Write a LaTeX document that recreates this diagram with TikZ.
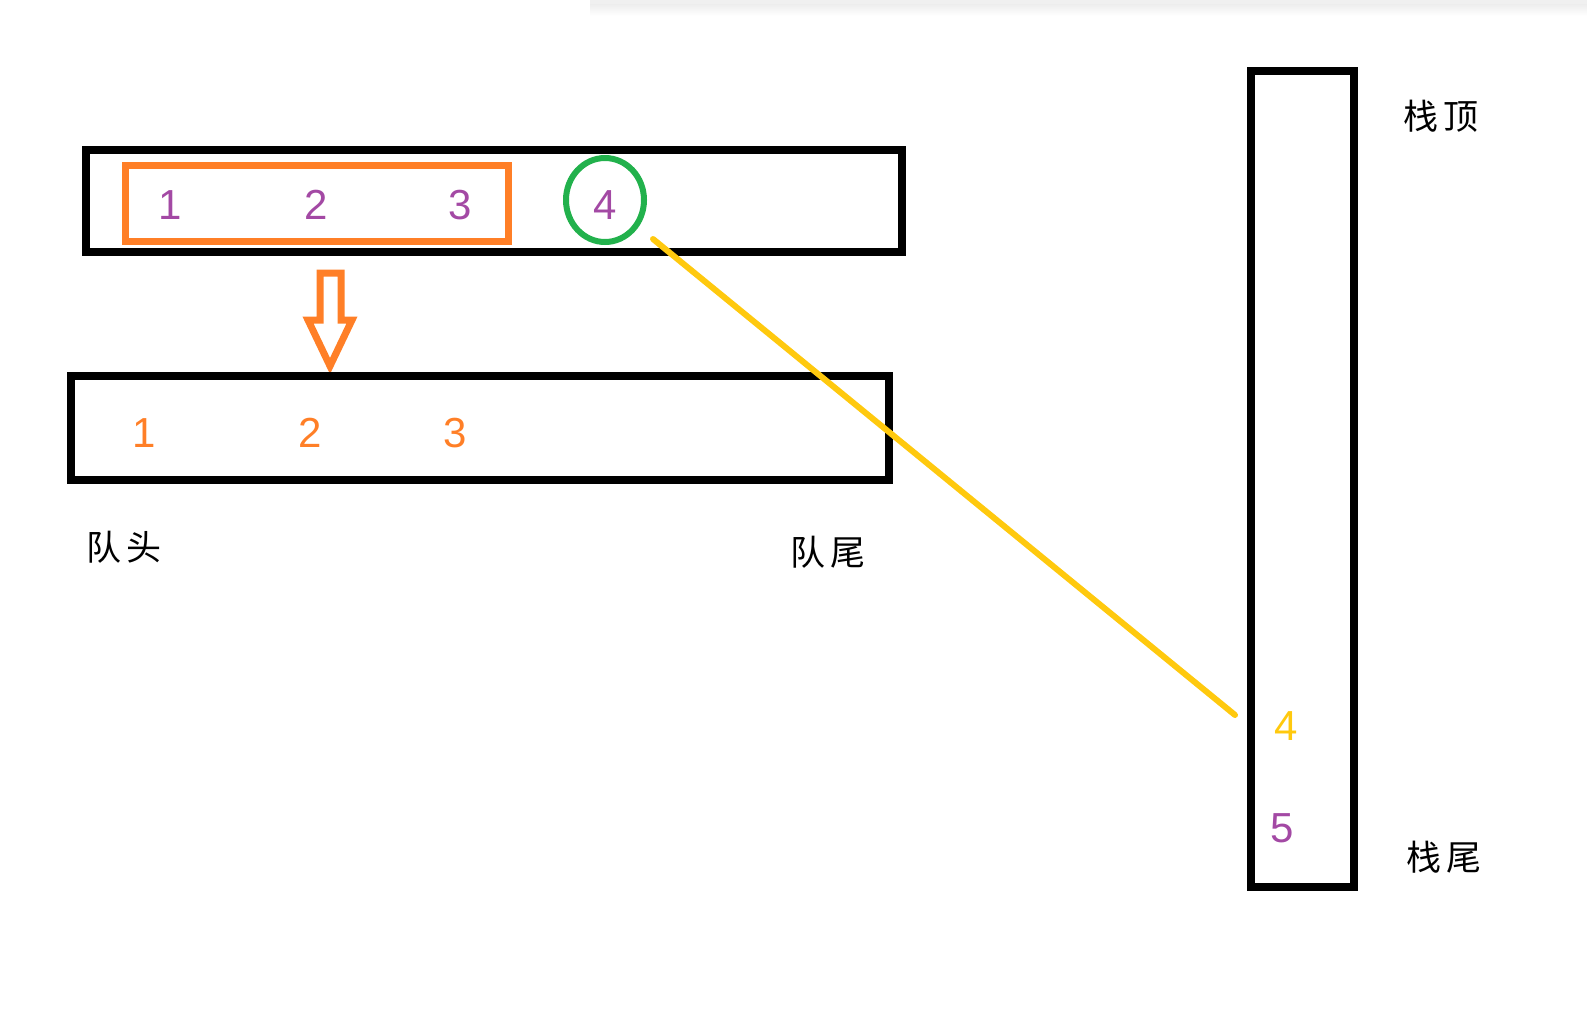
\documentclass[tikz,border=0pt]{standalone}
\usepackage{fontspec}
\setmainfont{Liberation Sans}
\newfontfamily\cjk{Noto Sans CJK SC}
\usepackage{tikz}
\usetikzlibrary{shapes.geometric}

\definecolor{qpurple}{HTML}{A349A4}
\definecolor{qorange}{HTML}{FF7F27}
\definecolor{qgreen}{HTML}{22B14C}
\definecolor{qyellow}{HTML}{FFC90E}

\begin{document}
\begin{tikzpicture}[x=1pt,y=-1pt,
  box/.style={draw=black,line width=8pt},
  num/.style={font=\fontsize{42}{48}\selectfont,inner sep=0pt},
  lab/.style={font=\cjk\fontsize{35}{40}\selectfont,inner sep=0pt}]

\useasboundingbox (0,0) rectangle (1587,1021);

% card edge at the top
\fill[gray!12] (590,0) rectangle (1587,4);
\shade[top color=gray!14,bottom color=white] (590,4) rectangle (1587,16);

% queue before
\draw[box] (86,150) rectangle (902,252);
\draw[draw=qorange,line width=7pt] (125,165) rectangle (508,241);
\node[num,text=qpurple] (t1) at (170,205) {1};
\node[num,text=qpurple] (t2) at (316,205) {2};
\node[num,text=qpurple] (t3) at (460,205) {3};
\node[draw=qgreen,line width=6pt,ellipse,minimum width=78pt,minimum height=84pt] (c4) at (605,200) {};
\node[num,text=qpurple] (t4) at (605,205) {4};

% hollow arrow
\draw[qorange,line width=7pt] (320,273) -- (341,273) -- (341,320) -- (352,320)
  -- (330,366) -- (308,320) -- (320,320) -- cycle;

% queue after
\draw[box] (71,376) rectangle (889,480);
\node[num,text=qorange] (b1) at (144,433) {1};
\node[num,text=qorange] (b2) at (310,433) {2};
\node[num,text=qorange] (b3) at (455,433) {3};

\node[lab] (head) at (124,547) {队\,头};
\node[lab] (tail) at (828,552) {队\,尾};

% stack
\draw[box] (1251,71) rectangle (1354,887);
\node[num,text=qyellow] (s4) at (1286,726) {4};
\node[num,text=qpurple] (s5) at (1282,828) {5};
\node[lab] (top) at (1441,116) {栈\,顶};
\node[lab] (bottom) at (1444,857) {栈\,尾};

\coordinate (from4) at (653,239);
\coordinate (to4) at (1235,715);
\draw[qyellow,line width=6pt,line cap=round] (from4) -- (to4);

\end{tikzpicture}
\end{document}
